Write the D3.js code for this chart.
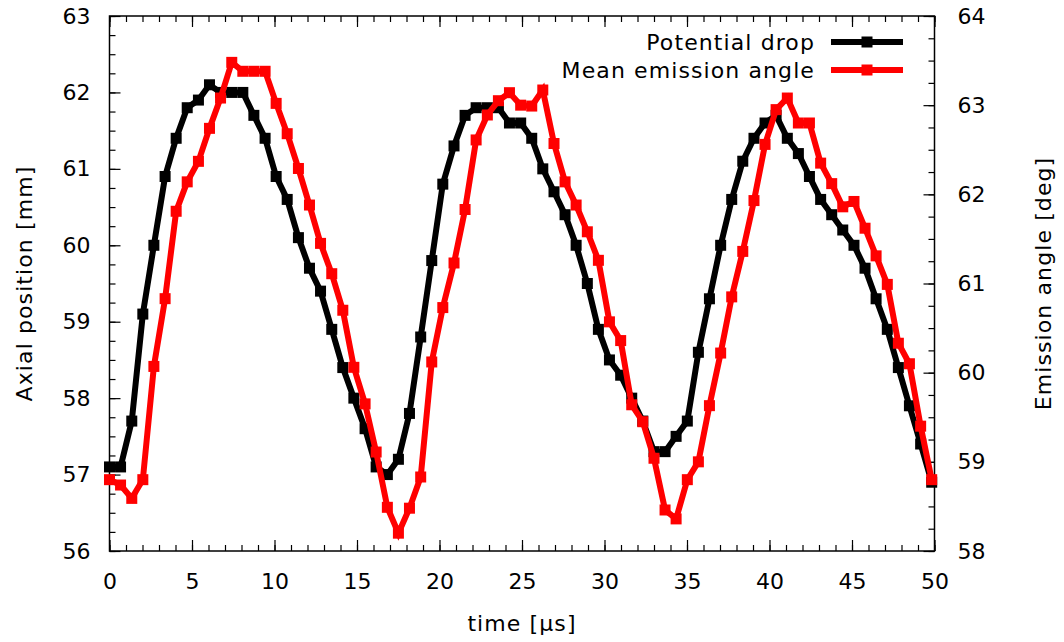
<!DOCTYPE html>
<html>
<head>
<meta charset="utf-8">
<script src="https://cdn.jsdelivr.net/npm/d3@7"></script>
<style>
  body { margin: 0; background: #fff; }
  text { font-family: "DejaVu Sans", sans-serif; font-size: 22px; fill: #000; }
  .lbl { letter-spacing: 1.1px; }
</style>
</head>
<body>
<div class="chart"></div>
<script>
// data
const times = [0, 0.67, 1.35, 2.02, 2.69, 3.37, 4.04, 4.71, 5.39, 6.06,
  6.73, 7.41, 8.08, 8.75, 9.43, 10.10, 10.77, 11.45, 12.12, 12.79,
  13.47, 14.14, 14.81, 15.49, 16.16, 16.84, 17.51, 18.18, 18.86, 19.53,
  20.20, 20.88, 21.55, 22.22, 22.90, 23.57, 24.24, 24.92, 25.59, 26.26,
  26.94, 27.61, 28.28, 28.96, 29.63, 30.30, 30.98, 31.65, 32.32, 33.00,
  33.67, 34.34, 35.02, 35.69, 36.36, 37.04, 37.71, 38.38, 39.06, 39.73,
  40.40, 41.08, 41.75, 42.42, 43.10, 43.77, 44.44, 45.12, 45.79, 46.46,
  47.14, 47.81, 48.48, 49.16, 49.83];

const potential_drop = [57.1, 57.1, 57.7, 59.1, 60.0, 60.9, 61.4, 61.8, 61.9, 62.1,
  62.0, 62.0, 62.0, 61.7, 61.4, 60.9, 60.6, 60.1, 59.7, 59.4,
  58.9, 58.4, 58.0, 57.6, 57.1, 57.0, 57.2, 57.8, 58.8, 59.8,
  60.8, 61.3, 61.7, 61.8, 61.8, 61.8, 61.6, 61.6, 61.4, 61.0,
  60.7, 60.4, 60.0, 59.5, 58.9, 58.5, 58.3, 58.0, 57.7, 57.3,
  57.3, 57.5, 57.7, 58.6, 59.3, 60.0, 60.6, 61.1, 61.4, 61.6,
  61.7, 61.4, 61.2, 60.9, 60.6, 60.4, 60.2, 60.0, 59.7, 59.3,
  58.9, 58.4, 57.9, 57.4, 56.9];

const emission_angle = [58.80, 58.74, 58.59, 58.80, 60.07, 60.83, 61.81, 62.14, 62.37, 62.74,
  63.08, 63.48, 63.38, 63.38, 63.38, 63.02, 62.68, 62.29, 61.88, 61.45,
  61.11, 60.70, 60.06, 59.65, 59.11, 58.49, 58.20, 58.48, 58.83, 60.12,
  60.73, 61.23, 61.83, 62.61, 62.89, 63.05, 63.14, 63.00, 62.99, 63.17,
  62.57, 62.14, 61.88, 61.58, 61.26, 60.57, 60.36, 59.64, 59.45, 59.04,
  58.46, 58.36, 58.80, 59.00, 59.63, 60.22, 60.85, 61.36, 61.93, 62.56,
  62.95, 63.08, 62.80, 62.80, 62.35, 62.12, 61.86, 61.92, 61.62, 61.31,
  60.99, 60.33, 60.10, 59.40, 58.80];

const x_ticks = [0, 5, 10, 15, 20, 25, 30, 35, 40, 45, 50];
const y_ticks = [56, 57, 58, 59, 60, 61, 62, 63];
const y2_ticks = [58, 59, 60, 61, 62, 63, 64];

const series_names = ["Potential drop", "Mean emission angle"];
const series_colors = ["#000000", "#ff0000"];

const WIDTH = 1064, HEIGHT = 642;
const M = {top: 16, right: 129.5, bottom: 91, left: 109.5};

const svg = d3.select(".chart").append("svg")
  .attr("width", WIDTH).attr("height", HEIGHT);

const xScale = d3.scaleLinear().domain([0, 50]).range([M.left, WIDTH - M.right]);
const yScale = d3.scaleLinear().domain([56, 63]).range([HEIGHT - M.bottom, M.top]);
const y2Scale = d3.scaleLinear().domain([58, 64]).range([HEIGHT - M.bottom, M.top]);

const d3range = (a, b, s) => d3.range(a, b + s / 2, s);

// ticks (gnuplot style: inward)
function draw_axis(axis, tr) {
  const g = svg.append("g").attr("transform", tr).call(axis);
  g.select(".domain").remove();
  g.selectAll("line").attr("stroke", "#000").attr("stroke-width", 1.2);
  g.selectAll("text").style("font-family", "DejaVu Sans").style("font-size", "22px");
  return g;
}
const bottomY = HEIGHT - M.bottom, topY = M.top;
const leftX = M.left, rightX = WIDTH - M.right;

// minor ticks
draw_axis(d3.axisBottom(xScale).tickValues(d3range(0, 50, 1)).tickSize(-6).tickFormat(""), `translate(0,${bottomY})`);
draw_axis(d3.axisTop(xScale).tickValues(d3range(0, 50, 1)).tickSize(-6).tickFormat(""), `translate(0,${topY})`);
draw_axis(d3.axisLeft(yScale).tickValues(d3range(56, 63, 0.25)).tickSize(-6).tickFormat(""), `translate(${leftX},0)`);
draw_axis(d3.axisRight(y2Scale).tickValues(d3range(58, 64, 0.25)).tickSize(-6).tickFormat(""), `translate(${rightX},0)`);

// major ticks with labels
const gx = draw_axis(d3.axisBottom(xScale).tickValues(x_ticks).tickSize(-11).tickPadding(30).tickFormat(d3.format("d")), `translate(0,${bottomY})`);
gx.selectAll("text").attr("dy", "0.35em");
draw_axis(d3.axisTop(xScale).tickValues(x_ticks).tickSize(-11).tickFormat(""), `translate(0,${topY})`);
draw_axis(d3.axisLeft(yScale).tickValues(y_ticks).tickSize(-11).tickPadding(19).tickFormat(d3.format("d")), `translate(${leftX},0)`);
draw_axis(d3.axisRight(y2Scale).tickValues(y2_ticks).tickSize(-11).tickPadding(23).tickFormat(d3.format("d")), `translate(${rightX},0)`);

// border
svg.append("rect")
  .attr("x", leftX).attr("y", topY)
  .attr("width", rightX - leftX).attr("height", bottomY - topY)
  .attr("fill", "none").attr("stroke", "#000").attr("stroke-width", 1.5);

// axis titles
svg.append("text").text("time [µs]").attr("class", "lbl")
  .attr("x", (leftX + rightX) / 2).attr("y", 631)
  .style("text-anchor", "middle");
svg.append("text").text("Axial position [mm]").attr("class", "lbl")
  .attr("transform", `translate(32,${(topY + bottomY) / 2}) rotate(-90)`)
  .style("text-anchor", "middle");
svg.append("text").text("Emission angle [deg]").attr("class", "lbl")
  .attr("transform", `translate(1051,${(topY + bottomY) / 2}) rotate(-90)`)
  .style("text-anchor", "middle");

// series
const series = [
  {name: series_names[0], color: series_colors[0], y: yScale, values: potential_drop},
  {name: series_names[1], color: series_colors[1], y: y2Scale, values: emission_angle}
];

const plot = svg.append("g");
series.forEach(s => {
  const pts = times.map((t, i) => [t, s.values[i]]);
  const line = d3.line().x(d => xScale(d[0])).y(d => s.y(d[1]));
  plot.append("path")
    .datum(pts)
    .attr("d", line)
    .attr("fill", "none")
    .attr("stroke", s.color)
    .attr("stroke-width", 6)
    .attr("stroke-linejoin", "miter");
  plot.selectAll(null)
    .data(pts).enter()
    .append("rect")
    .attr("x", d => xScale(d[0]) - 5.5)
    .attr("y", d => s.y(d[1]) - 5.5)
    .attr("width", 11).attr("height", 11)
    .attr("fill", s.color);
});

// legend
const legend = svg.append("g");
series.forEach((s, i) => {
  const ly = 42 + i * 28;
  legend.append("text").text(s.name).attr("class", "lbl")
    .attr("x", 815).attr("y", ly).attr("dy", "0.35em")
    .style("text-anchor", "end");
  legend.append("line")
    .attr("x1", 831).attr("x2", 903).attr("y1", ly).attr("y2", ly)
    .attr("stroke", s.color).attr("stroke-width", 6);
  legend.append("rect")
    .attr("x", 867 - 5.5).attr("y", ly - 5.5)
    .attr("width", 11).attr("height", 11)
    .attr("fill", s.color);
});
</script>
</body>
</html>
